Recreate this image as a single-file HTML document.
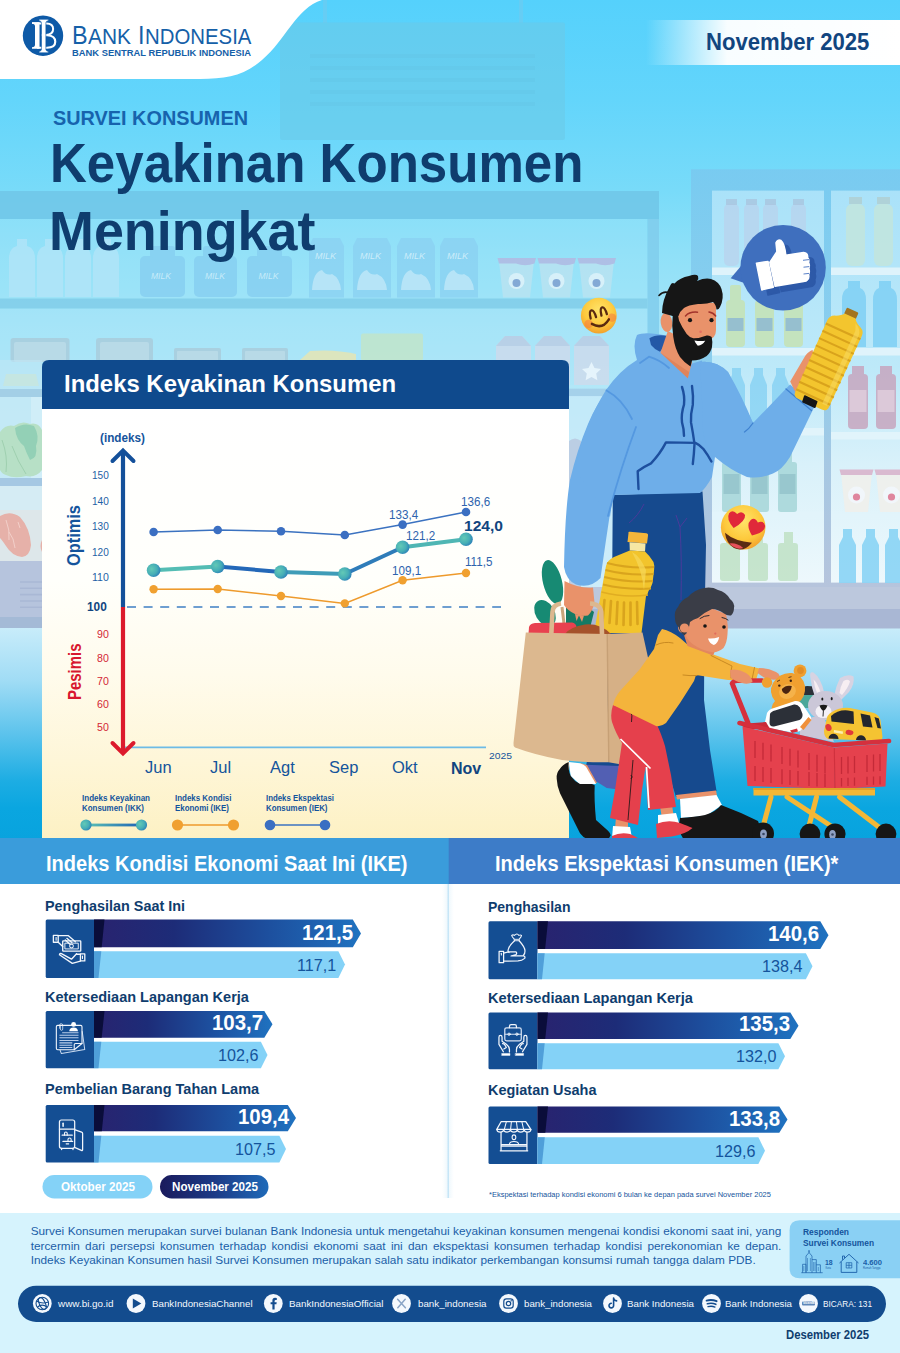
<!DOCTYPE html>
<html lang="id">
<head>
<meta charset="utf-8">
<title>Survei Konsumen - November 2025</title>
<style>
html,body{margin:0;padding:0;background:#fff;}
body{width:900px;height:1353px;overflow:hidden;font-family:"Liberation Sans",sans-serif;}
#page{position:relative;width:900px;height:1353px;overflow:hidden;background:#fff;}
#page svg.layer{position:absolute;left:0;top:0;}
.t{position:absolute;white-space:nowrap;line-height:1;margin:0;padding:0;transform-origin:0 0;}
.b{font-weight:bold;}
.navy{color:#0f3d6e;}
.blue{color:#14549c;}
.w{color:#fff;}
</style>
</head>
<body>
<div id="page">

<!-- ============ BACKGROUND ============ -->
<svg class="layer" width="900" height="1353" viewBox="0 0 900 1353">
<defs>
  <linearGradient id="sky" x1="0" y1="0" x2="0" y2="1">
    <stop offset="0" stop-color="#55d1fc"/>
    <stop offset="0.156" stop-color="#63d5fb"/>
    <stop offset="0.297" stop-color="#78dbf9"/>
    <stop offset="0.39" stop-color="#8ee0f8"/>
    <stop offset="0.5" stop-color="#a3e4f8"/>
    <stop offset="0.625" stop-color="#b5e8f8"/>
    <stop offset="0.8" stop-color="#c6ecf9"/>
    <stop offset="1" stop-color="#d0effa"/>
  </linearGradient>
  <linearGradient id="floor" x1="0" y1="0" x2="0" y2="1">
    <stop offset="0" stop-color="#c8ecfa"/>
    <stop offset="0.25" stop-color="#a0dcf5"/>
    <stop offset="0.5" stop-color="#5cc3ec"/>
    <stop offset="0.72" stop-color="#1dade3"/>
    <stop offset="0.85" stop-color="#0aa6e0"/>
    <stop offset="1" stop-color="#08a3de"/>
  </linearGradient>
  <linearGradient id="ribbon" x1="0" y1="0" x2="1" y2="0">
    <stop offset="0" stop-color="#ffffff" stop-opacity="0"/>
    <stop offset="0.15" stop-color="#ffffff" stop-opacity="0.45"/><stop offset="0.32" stop-color="#ffffff" stop-opacity="0.96"/>
    <stop offset="1" stop-color="#ffffff" stop-opacity="1"/>
  </linearGradient>
  <linearGradient id="card" x1="0" y1="0" x2="0" y2="1">
    <stop offset="0" stop-color="#ffffff"/>
    <stop offset="0.4" stop-color="#fffffb"/>
    <stop offset="0.62" stop-color="#fffbec"/>
    <stop offset="0.82" stop-color="#fef6d8"/>
    <stop offset="1" stop-color="#fdf1c4"/>
  </linearGradient>
</defs>
<rect x="0" y="0" width="900" height="640" fill="url(#sky)"/>
<rect x="0" y="628" width="900" height="212" fill="url(#floor)"/>
<!-- ===== BACKGROUND ART ===== -->
<g id="bgart">
<!-- hanging sign -->
<rect x="323" y="0" width="4" height="23" fill="#6fc9ee" opacity="0.6"/><rect x="519" y="0" width="4" height="23" fill="#6fc9ee" opacity="0.6"/>
<rect x="280" y="22.5" width="285" height="117.5" rx="2" fill="#6ac9e8" opacity="0.6"/>
<g stroke="#62c2e2" stroke-width="4" opacity="0.3"><path d="M310 56 H535 M310 68 H535 M310 80 H535 M310 92 H535 M310 104 H535"/></g>
<!-- shelf unit (left/middle) -->
<rect x="0" y="219" width="647" height="80" fill="#9fe3f8" opacity="0.3"/>
<rect x="0" y="309" width="647" height="76" fill="#a8e5f8" opacity="0.3"/>
<rect x="0" y="191" width="659" height="28" fill="#70c6e8" opacity="0.85"/>
<rect x="647.5" y="219" width="11.5" height="200" fill="#80cdec" opacity="0.85"/>
<rect x="0" y="298.5" width="647.5" height="10" fill="#82cde9" opacity="0.9"/>
<!-- milk bottles (pale) -->
<g fill="#b4e5f9" opacity="0.75">
<path d="M9 297 V258 Q9 248 17 246 V239 H27 V246 Q35 248 35 258 V297 Z"/>
<path d="M37 297 V258 Q37 248 45 246 V239 H55 V246 Q63 248 63 258 V297 Z"/>
<path d="M65 297 V258 Q65 248 73 246 V239 H83 V246 Q91 248 91 258 V297 Z"/>
<path d="M93 297 V258 Q93 248 101 246 V239 H111 V246 Q119 248 119 258 V297 Z"/>
</g>
<!-- milk jugs -->
<g fill="#86cff1" opacity="0.8">
<rect x="140" y="256" width="45" height="41" rx="5"/><rect x="194" y="256" width="43" height="41" rx="5"/><rect x="247" y="256" width="45" height="41" rx="5"/>
<rect x="150" y="246" width="25" height="12" rx="3"/><rect x="203" y="246" width="25" height="12" rx="3"/><rect x="257" y="246" width="25" height="12" rx="3"/>
</g>
<g fill="#d8f2fc" opacity="0.8" font-family="Liberation Sans" font-size="8.5" font-style="italic"><text x="151" y="279">MILK</text><text x="205" y="279">MILK</text><text x="258.5" y="279">MILK</text></g>
<!-- milk cartons -->
<g fill="#8bd2f3" opacity="0.8">
<path d="M309 297.5 V246 L313 238 H340 L344 246 V297.5 Z"/><path d="M353 297.5 V246 L357 238 H387 L391 246 V297.5 Z"/><path d="M397 297.5 V246 L401 238 H431 L435 246 V297.5 Z"/><path d="M440 297.5 V246 L444 238 H474 L478 246 V297.5 Z"/>
</g>
<g fill="#d8f2fc" opacity="0.85" font-family="Liberation Sans" font-size="9" font-style="italic"><text x="315" y="259">MILK</text><text x="360" y="259">MILK</text><text x="404" y="259">MILK</text><text x="447" y="259">MILK</text></g>
<g fill="#c4eaf9" opacity="0.75"><path d="M312 290 Q313 272 322 270 Q326 276 332 274 Q340 278 341 290 Z"/><path d="M357 290 Q358 272 367 270 Q371 276 377 274 Q386 278 387 290 Z"/><path d="M401 290 Q402 272 411 270 Q415 276 421 274 Q430 278 431 290 Z"/><path d="M444 290 Q445 272 454 270 Q458 276 464 274 Q473 278 474 290 Z"/></g>
<!-- yogurt cups -->
<g opacity="0.85">
<g fill="#b9e3f2"><path d="M499 261 H534 L530 297.5 H503 Z"/><path d="M539 261 H574 L570 297.5 H543 Z"/><path d="M579 261 H614 L610 297.5 H583 Z"/></g>
<g fill="#b3b9e2"><path d="M497.5 258 H536 L534.5 263.5 Q525 267 516 263.5 H499 Z"/><path d="M537.5 258 H576 L574.5 263.5 Q565 267 556 263.5 H539 Z"/><path d="M577.5 258 H616 L614.5 263.5 Q605 267 596 263.5 H579 Z"/></g>
<g fill="#e2f3fa"><circle cx="516.5" cy="281" r="8"/><circle cx="556.5" cy="281" r="8"/><circle cx="596.5" cy="281" r="8"/></g>
<g fill="#7f9fd0"><circle cx="516.5" cy="283" r="4"/><circle cx="556.5" cy="283" r="4"/><circle cx="596.5" cy="283" r="4"/></g>
</g>
<!-- lower shelf items -->
<g opacity="0.8">
<g fill="#a9cbdb"><rect x="10.5" y="338" width="59" height="24" rx="3"/><rect x="96" y="338" width="57" height="24" rx="3"/><rect x="174" y="348" width="47" height="14" rx="2"/><rect x="242" y="348" width="46" height="14" rx="2"/></g>
<g fill="#bcd8e4"><rect x="14" y="342" width="52" height="20" rx="2"/><rect x="100" y="342" width="49" height="20" rx="2"/><rect x="177" y="351" width="41" height="11" rx="1"/><rect x="245" y="351" width="40" height="11" rx="1"/></g>
<rect x="361" y="333.5" width="62" height="27" rx="2" fill="#c3e5c8"/>
<path d="M300 360 L310 351 Q335 349 356 354 V360 Z" fill="#e9e6b0"/>
<g fill="#cfdbec"><path d="M496 385 V346 L505 336 H522 L531 346 V385 Z"/><path d="M535 385 V346 L544 336 H561 L570 346 V385 Z"/><path d="M574 385 V346 L583 336 H600 L609 346 V385 Z"/></g>
<g fill="#bccbe3"><path d="M496 346 L505 336 H522 L531 346 Z"/><path d="M535 346 L544 336 H561 L570 346 Z"/><path d="M574 346 L583 336 H600 L609 346 Z"/></g>
<path d="M591.5 362 l3 6 l6.5 1 l-4.8 4.6 l1.2 6.6 l-5.9 -3.2 l-5.9 3.2 l1.2 -6.6 l-4.8 -4.6 l6.5 -1 Z" fill="#f4f8fd"/>
</g>
<!-- left strip (below card top) -->
<rect x="0" y="360" width="42" height="30" fill="#bfe6f5" opacity="0.6"/>
<path d="M3 386 L6 374 H36 L39 386 Z" fill="#c7e6e0" opacity="0.9"/>
<rect x="0" y="389" width="42" height="8" fill="#a3cfe6"/>
<rect x="0" y="397" width="42" height="81" fill="#c5e8f5" opacity="0.8"/>
<rect x="31" y="397" width="11" height="81" fill="#d3eff9" opacity="0.8"/>
<path d="M0 432 Q6 424 14 426 Q22 420 30 424 Q38 422 42 430 V470 Q36 478 26 476 Q14 479 6 475 Q2 474 0 470 Z" fill="#b7e0c6"/>
<path d="M15 428 Q24 422 34 426 Q40 436 36 446 Q38 458 30 460 Q26 452 24 446 Q16 440 15 428 Z" fill="#93d0b6"/>
<path d="M2 440 Q8 456 6 472 M12 446 Q18 462 26 474" fill="none" stroke="#9fd0b0" stroke-width="1"/>
<rect x="0" y="478" width="42" height="8" fill="#a5c8e3"/>
<rect x="0" y="486" width="42" height="26" fill="#d5ecf4"/>
<rect x="0" y="510" width="42" height="51" fill="#dde7ea"/>
<path d="M0 516 Q10 510 20 517 Q30 528 31 545 Q30 556 22 557 Q12 556 6 546 Q2 540 0 538 Z" fill="#e6b1a9"/>
<path d="M6 520 Q10 530 9 540 M9 532 Q14 538 15 548 M18 522 L20 528" fill="none" stroke="#f3d3cd" stroke-width="0.9"/>
<path d="M42 540 Q39 546 42 552 Z" fill="#e6b1a9"/>
<rect x="0" y="561" width="42" height="56" fill="#b6c4dd"/>
<rect x="0" y="617" width="42" height="11" fill="#a4bad6"/>
<g stroke="#a9b8d5" stroke-width="1.6"><path d="M20 582 H42 M20 588.3 H42 M20 594.6 H42 M20 601 H42 M20 607.3 H42"/></g>
<!-- fridge (right) -->
<defs>
<linearGradient id="frFrame" x1="0" y1="0" x2="0" y2="1"><stop offset="0" stop-color="#7ac7ee" stop-opacity="0.8"/><stop offset="0.45" stop-color="#86caec" stop-opacity="0.85"/><stop offset="0.7" stop-color="#a4c6e2" stop-opacity="0.95"/><stop offset="1" stop-color="#b6c4dc" stop-opacity="1"/></linearGradient>
<linearGradient id="frIn" x1="0" y1="0" x2="0" y2="1"><stop offset="0" stop-color="#aae2f9"/><stop offset="0.45" stop-color="#bde9f9"/><stop offset="0.7" stop-color="#d9f1fa"/><stop offset="1" stop-color="#edf8fc"/></linearGradient>
</defs>
<rect x="691" y="169.3" width="209" height="418" fill="url(#frFrame)"/>
<rect x="712" y="190.6" width="112" height="392" fill="url(#frIn)"/>
<rect x="831" y="190.6" width="69" height="392" fill="url(#frIn)"/>
<rect x="569" y="388.7" width="78" height="7.5" fill="#a3cee8" opacity="0.9"/>
<rect x="569" y="396" width="122" height="192" fill="#cdebf9" opacity="0.55"/>
<path d="M569 587 V441 Q575 436 581 441 V587 Z" fill="#b9c9e1" opacity="0.85"/>
<g fill="#e3f5fc" opacity="0.9">
<rect x="712" y="267.5" width="112" height="7.5"/><rect x="831" y="267.5" width="69" height="7.5"/>
<rect x="712" y="348" width="112" height="7.5"/><rect x="831" y="348" width="69" height="7.5"/>
<rect x="712" y="428" width="112" height="7.5"/><rect x="831" y="432" width="69" height="7.5"/>
<rect x="712" y="512" width="112" height="7.5"/><rect x="831" y="514" width="69" height="7.5"/>
</g>
<!-- fridge bottles row1 -->
<g fill="#b9d3ee" opacity="0.75"><rect x="724" y="204" width="15" height="62" rx="5"/><rect x="744" y="204" width="15" height="62" rx="5"/><rect x="763" y="204" width="15" height="62" rx="5"/><rect x="791" y="204" width="15" height="62" rx="5"/></g>
<g fill="#a9c4de" opacity="0.75"><rect x="726" y="199" width="11" height="6"/><rect x="746" y="199" width="11" height="6"/><rect x="765" y="199" width="11" height="6"/><rect x="793" y="199" width="11" height="6"/></g>
<g fill="#c4e6dc" opacity="0.8"><rect x="846" y="204" width="19" height="62" rx="6"/><rect x="874" y="204" width="19" height="62" rx="6"/></g>
<g fill="#b0cfd0" opacity="0.8"><rect x="849" y="197" width="13" height="7"/><rect x="877" y="197" width="13" height="7"/></g>
<!-- row2 -->
<g fill="#c6e3b4" opacity="0.85"><rect x="726" y="300" width="19" height="47" rx="4"/><rect x="755" y="300" width="19" height="47" rx="4"/><rect x="784" y="300" width="19" height="47" rx="4"/><rect x="730" y="285" width="11" height="17" rx="2"/><rect x="759" y="285" width="11" height="17" rx="2"/><rect x="788" y="285" width="11" height="17" rx="2"/></g>
<g fill="#8fb9d2" opacity="0.85"><rect x="727.5" y="318" width="16" height="13"/><rect x="756.5" y="318" width="16" height="13"/><rect x="785.5" y="318" width="16" height="13"/></g>
<g fill="#7fd0f5" opacity="0.85"><path d="M842 347 V300 Q842 290 848 288 V281 H860 V288 Q866 290 866 300 V347 Z"/><path d="M873 347 V300 Q873 290 879 288 V281 H891 V288 Q897 290 897 300 V347 Z"/></g>
<!-- row3 -->
<g fill="#86d2f4" opacity="0.8"><path d="M728 427 V385 L732 375 V368 H741 V375 L745 385 V427 Z"/><path d="M750 427 V385 L754 375 V368 H763 V375 L767 385 V427 Z"/><path d="M772 427 V385 L776 375 V368 H785 V375 L789 385 V427 Z"/></g>
<g fill="#c7a6bf" opacity="0.85"><rect x="848" y="374" width="20" height="55" rx="4"/><rect x="876" y="374" width="20" height="55" rx="4"/><rect x="852" y="366" width="12" height="9"/><rect x="880" y="366" width="12" height="9"/></g>
<g fill="#e2d0de" opacity="0.8"><rect x="849.5" y="390" width="17" height="22"/><rect x="877.5" y="390" width="17" height="22"/></g>
<!-- row4 left: blue-green bottles; right: yogurt cups -->
<g fill="#a6d6d8" opacity="0.85"><rect x="722" y="462" width="19" height="50" rx="3"/><rect x="750" y="462" width="19" height="50" rx="3"/><rect x="778" y="462" width="19" height="50" rx="3"/><rect x="727" y="451" width="9" height="12"/><rect x="755" y="451" width="9" height="12"/><rect x="783" y="451" width="9" height="12"/></g>
<g fill="#93c3cb" opacity="0.8"><rect x="723.5" y="474" width="16" height="20"/><rect x="751.5" y="474" width="16" height="20"/><rect x="779.5" y="474" width="16" height="20"/></g>
<g opacity="0.9"><path d="M841 473 H872 L868 512 H845 Z" fill="#f0f0ec"/><path d="M876 473 H907 L903 512 H880 Z" fill="#f0f0ec"/><path d="M839.5 469.5 H873.5 L872 475 H841 Z M874.5 469.5 H908.5 L907 475 H876 Z" fill="#d9b5cc"/><circle cx="856.5" cy="495" r="8.5" fill="#f4f7fb"/><circle cx="891.5" cy="495" r="8.5" fill="#f4f7fb"/><circle cx="856.5" cy="497" r="3.6" fill="#e07a94"/><circle cx="891.5" cy="497" r="3.6" fill="#e07a94"/></g>
<!-- row5 -->
<g fill="#c2e3c8" opacity="0.9"><rect x="720" y="543" width="20" height="38" rx="3"/><rect x="748" y="543" width="20" height="38" rx="3"/><rect x="778" y="543" width="20" height="38" rx="3"/><rect x="726" y="532" width="9" height="12"/><rect x="754" y="532" width="9" height="12"/><rect x="784" y="532" width="9" height="12"/></g>
<g fill="#84d2f5" opacity="0.85"><path d="M839 583 V545 L843 537 V529 H852 V537 L856 545 V583 Z"/><path d="M862 583 V545 L866 537 V529 H875 V537 L879 545 V583 Z"/><path d="M885 583 V545 L889 537 V529 H898 V537 L902 545 V583 Z"/></g>
<!-- fridge base -->
<rect x="570" y="587" width="330" height="24" fill="#bcc8dd"/>
<rect x="570" y="609" width="330" height="19.5" fill="#a9b7d4"/>

</g>

<!-- white logo tab -->
<path d="M0 0 H322 C296 8 286 40 262 60 C244 76 226 79 200 79 H0 Z" fill="#ffffff"/>
<!-- BI logo -->
<circle cx="43" cy="35.7" r="20.2" fill="#0e5aa7"/>
<g transform="translate(15,8) scale(0.066667)">
  <g fill="none" stroke="#ffffff" stroke-linejoin="round">
    <path d="M330 232 H475 Q572 236 572 314 Q572 396 466 404 H400" stroke-width="30"/>
    <path d="M400 408 H486 Q604 416 604 506 Q604 594 478 596 H330" stroke-width="32"/>
  </g>
  <path d="M255 215 H368 V610 H255 V590 Q296 588 300 560 V265 Q296 238 255 236 Z" fill="#ffffff"/>
  <path d="M360 170 H500 V190 Q466 194 463 220 V622 Q466 648 500 652 V672 H360 V652 Q394 648 397 622 V220 Q394 194 360 190 Z" fill="#ffffff" stroke="#0e5aa7" stroke-width="9"/>
  <path d="M255 215 H368 V240 H255 Z" fill="#ffffff"/>
</g>
<!-- november ribbon -->
<rect x="646" y="20" width="254" height="45" fill="url(#ribbon)"/>
<!-- chart card -->
<path d="M42 409 H569 V838 H42 Z" fill="url(#card)"/>
<path d="M42 367 Q42 360 49 360 H562 Q569 360 569 367 V409 H42 Z" fill="#0f4a8d"/>
<!-- ===== ILLUSTRATION ===== -->
<g id="illus">
<!-- like bubble -->
<path d="M730.7 278.3 L741 266 L747 284 Z" fill="#3f6fbe"/>
<circle cx="783.1" cy="267.7" r="42.7" fill="#3f6fbe"/>
<g fill="#2d59a8" transform="translate(6.2,5.2)">
<path d="M756.4 263.2 L768 261.4 L773.3 287.2 L761.8 289.9 Z" stroke="#2d59a8" stroke-width="1.5" stroke-linejoin="round"/>
<path d="M769.8 262.3 L776.9 251.7 L776 242.8 Q777.5 239 781 240.5 Q784.5 243 785.8 255.2 L803.6 252.6 Q808 253 807.6 257.5 Q809.5 259.5 808.6 262.5 Q810 265.5 808.8 268.5 Q810 271.5 808.6 274.5 Q809.5 278 807.5 279.8 Q806.5 281.5 803.6 281.5 L775.1 286.3 Z" stroke="#2d59a8" stroke-width="1.5" stroke-linejoin="round"/>
</g>
<g fill="#ffffff">
<path d="M756.4 263.2 L768 261.4 L773.3 287.2 L761.8 289.9 Z" stroke="#fff" stroke-width="1.5" stroke-linejoin="round"/>
<path d="M769.8 262.3 L776.9 251.7 L776 242.8 Q777.5 239 781 240.5 Q784.5 243 785.8 255.2 L803.6 252.6 Q808 253 807.6 257.5 Q809.5 259.5 808.6 262.5 Q810 265.5 808.8 268.5 Q810 271.5 808.6 274.5 Q809.5 278 807.5 279.8 Q806.5 281.5 803.6 281.5 L775.1 286.3 Z" stroke="#fff" stroke-width="1.5" stroke-linejoin="round"/>
</g>
<path d="M803 260.3 L809 259.6 M803.5 267.2 L809.3 266.6 M803.5 274 L809 273.4" stroke="#5b82c8" stroke-width="1" fill="none"/>
<!-- MAN legs -->
<path d="M612.8 495 L702.5 491.5 L706 545 L704.5 620 L704 700 L710 750 L716.5 791 L676 797 L660 745 L640 764 L622 766 L586 766 L600 700 L612 600 Z" fill="#164a8e"/>
<!-- pants wrinkles -->
<path d="M644 504 Q638 516 629 523 M676 515 Q678 521 680 527 L687 518 M680 527 Q682 560 681 600" fill="none" stroke="#4a3a9a" stroke-width="1"/>
<!-- left shoe (behind bag) -->
<path d="M586 764.7 L618.7 766 L616.7 789.3 L606.7 788 L596 781.3 Z" fill="#525fb3"/>
<path d="M580 763 L587 765 L597 783 L592 784 Z" fill="#e9926a"/>
<path d="M568.7 762 L580 763.3 Q584 764.5 586 766.7 L596 784 L580 784.5 L570.7 776 Z" fill="#ffffff"/>
<path d="M568.7 762 Q562 765 560 768.7 Q556 773 556.7 778.7 Q557 786 560 793.3 L580 833.3 Q583 837.5 586.7 838.7 L606.7 839.3 Q610 838 610.7 835.3 Q610 832.5 608 830.7 L596 820 Q594 800 594.7 785.3 L592 784 L580 784 Q574 781 570.7 776 Q568 770 568.7 762 Z" fill="#161616"/>
<!-- right shoe -->
<path d="M676 795 L716 790.5 L717 795.5 L677 799.5 Z" fill="#e9926a"/>
<path d="M680 799 L716.5 795 L722 805 L706 816 L681 818 Z" fill="#ffffff"/>
<path d="M680 818 Q695 817 705 815 Q716 812 721 805 Q740 812 758 821 Q762 830 760 840 L684 840 Q677 830 680 818 Z" fill="#161616"/>
<!-- items in bag: bottle -->
<g>
<path d="M628.5 533 Q628 531.5 630 531.8 L646.5 533.2 Q648.5 533.5 648 535.5 L647 543.5 L627.5 542 Z" fill="#f5b63a"/>
<path d="M629.5 542.2 L645.5 543.4 L645 551.5 L629.8 550.5 Z" fill="#f6e7a4"/>
<path d="M629.8 550.5 L645 551.5 Q650 556 653.5 562 Q655 566 654 571 L652.5 583 Q651 588 648.5 591 Q648 594 646 596 L641.5 633 L594 633 L600.5 596 Q600.5 593 601.5 590 Q602.5 586 603 582 L606 566 Q607.5 560 614 557 Z" fill="#f2c42c"/>
<path d="M607 563 Q630 569 654 567 M605.5 570 Q629 576 653.5 574 M604.3 577 Q628 583 652.8 581 M603 584.5 Q626 590 651 588.5" fill="none" stroke="#d9a41d" stroke-width="2.2"/>
<path d="M601.5 592 Q624 598 648 595" fill="none" stroke="#e0ad22" stroke-width="1.5"/>
<g stroke="#d9a41d" stroke-width="2.6" stroke-linecap="round"><path d="M604.5 600 L602.5 622 M611 601 L609.5 623 M617.5 602 L616.5 624 M624 602.5 L623.5 625 M630.5 602.5 L630.5 625 M637 602 L637.5 624"/></g>
<path d="M632 552 Q640 556 646 570 L644 590 Q642 570 632 552 Z" fill="#f7d85a" opacity="0.7"/>
</g>
<!-- leaves -->
<ellipse cx="552.5" cy="582" rx="9.5" ry="22.5" transform="rotate(-14 552.5 582)" fill="#178a73"/>
<ellipse cx="545" cy="613" rx="9.5" ry="14" transform="rotate(-30 545 613)" fill="#178a73"/>
<path d="M566 606 Q580 600 594 612 L590 628 L566 628 Z" fill="#147a64"/>
<!-- back handle -->
<path d="M562 607 L565 632" stroke="#c9a57b" stroke-width="3" fill="none"/>
<!-- red + bread -->
<path d="M528.5 634 L529 627 Q530 623.5 535 623 L572 622.5 Q576 623 576.5 627 L577 634 Z" fill="#e8414f"/>
<path d="M565 634 Q570 627 585 624.5 Q600 623 611 634 Z" fill="#a5522b"/>
<!-- bag -->
<path d="M525.8 632.6 L607 634 L608.6 762.3 Q582 762.5 562 760 Q535 755 515 747.5 Q513 746 513.5 743 Z" fill="#dcb88f"/>
<path d="M607 634 L642.5 632.4 L648.5 660 L640 700 L621.5 764.5 L608.6 762.3 Z" fill="#d6b086"/>
<path d="M607.2 634 L608.8 762" stroke="#c6a076" stroke-width="1.4" fill="none"/>
<!-- hoodie hanging arm -->
<path d="M613 383 Q596 404 588 424 Q577 450 570 480 Q565 510 564 567 Q566 580 576 584.5 Q590 589 600.5 578 L606 540 L612 500 L618 440 Z" fill="#6eaee9"/>
<!-- hand on handle -->
<path d="M564.5 581 Q580 589 593 587.5 L594.5 603 Q592 612 588 615.5 Q580 616.5 575 614 Q568 611 564 605 Z" fill="#e9926a"/>
<!-- front handle -->
<path d="M551.3 634 L552.5 612 Q553 604.5 561 603.5 M590 603.5 Q600.5 604 601.2 612 L602 634" fill="none" stroke="#dcb88f" stroke-width="4.6"/>
<path d="M575 614 L576.5 621 L579 615.5 L582 622 L584 615.5 Z" fill="#e9926a"/>
<!-- hoodie body -->
<path d="M637 335 Q645 331 668 336 L690 372 L700 362 Q716 360 728 372 L753 423 L715 457 L712 477 Q706 488 700 493 L613 495 L610 517 L575 470 Q584 425 606 390 Q620 370 637 360 Q632 345 637 335 Z" fill="#6eaee9"/>
<path d="M690.5 364 L702 360.5 L706 390 L686 381 Z" fill="#6eaee9"/>
<!-- hood inner -->
<path d="M649.4 338.3 Q656 334 667.8 336 L666.7 343 L660 351.7 Q654 349 651 345 Z" fill="#2458a6"/>
<!-- neck -->
<path d="M667.8 331 L660.5 352.8 L687.8 378.3 L692 362 L676 335 Z" fill="#e9926a"/>
<path d="M660.5 352.8 L687.8 378.3 L689 372 Z" fill="#d9784f" opacity="0.55"/>
<!-- hoodie detail lines -->
<g fill="none" stroke="#5498e0" stroke-width="1.8" stroke-linecap="round">
<path d="M606.5 390.5 Q622.5 399 632 419"/>
<path d="M636 427 Q620 470 608 516"/>
<path d="M640 363 L649 356.7 Q660 360 669 368"/>
<path d="M728 376 Q722 392 724 410"/>
</g>
<g fill="none" stroke="#1d4f9e" stroke-width="2.4" stroke-linecap="round" stroke-linejoin="round">
<path d="M682 387 Q685 396 684 404.7 Q681 414 682 422.4 Q684 429 684 435.8"/>
<path d="M692 386 Q693.5 396 692.8 404.7 Q690.5 414 691 422.4 Q693 433 694.5 443.8 Q694 455 692.8 464"/>
<path d="M638.5 489 L637.7 471.3 Q645 466 651 463.3 Q660 454 666 442.4 L695.4 442.9 Q700 445 703.4 449 Q708 455 711.4 461.5"/>
</g>
<!-- head -->
<path d="M676 300 L716 303 L716 330 Q716 338 708 340 L690 342 L676 330 Z" fill="#e9926a"/>
<ellipse cx="666.5" cy="322.5" rx="5.8" ry="9.5" transform="rotate(-8 666.5 322.5)" fill="#e9926a"/>
<path d="M659 295.5 Q663 291 668.5 292.5" fill="none" stroke="#161616" stroke-width="1.6" stroke-linecap="round"/>
<path d="M662 313 Q662 300 670 286 Q671.5 281.5 674.5 283.5 Q680 277.5 689 276 Q696 273.5 698 276 Q699 278.5 697 281 Q705 277.5 711 279 Q719 281.5 721.5 289 Q724.5 298 720 307 Q718.5 310 716.5 309.5 Q716 304.5 713 302 Q706 304.5 698 304 Q688 305 684 308 Q680 311 678.5 316 L672.5 316 Z" fill="#161616"/>
<path d="M672.8 314 Q671.5 326 673.3 337 Q675 349 680 357 Q684.5 363 690.5 366.5 L692 360.5 Q700 360.5 706.7 356 Q711 352 712 347 Q712.8 341.5 711.7 337 Q709.5 335 706.7 335.5 Q699 338.5 693.3 338.3 Q689 337 686.7 334 Q682 327.5 679 320.5 L677.8 314 Z" fill="#161616"/>
<path d="M694.4 340.5 Q700 341.5 705.2 340.8 Q702.5 345.5 697.8 345.8 Q695.5 343.5 694.4 340.5 Z" fill="#ffffff"/>
<circle cx="690" cy="320.2" r="2.1" fill="#161616"/><circle cx="711.5" cy="320.2" r="2.1" fill="#161616"/>
<path d="M685.5 316 Q689.5 311.5 697.5 312.2 M709 312 Q713 312.5 715.7 316" fill="none" stroke="#a2342c" stroke-width="1.5" stroke-linecap="round"/>
<circle cx="700.6" cy="331.8" r="1.3" fill="#e26f62"/>
<!-- raised arm -->
<path d="M700 362 Q716 360 728 372 Q742 396 753 423 L790 384.5 L815 405.5 L790 457 Q782 470 773 473.5 Q760 479 747 477 Q730 470 715 457 Q700 440 703 420 Z" fill="#6eaee9"/>
<path d="M753 423 Q749 429 744.5 432 M786 389 L811.5 410.5" fill="none" stroke="#3f82d0" stroke-width="1.3" stroke-linecap="round"/>
<!-- hand with bottle -->
<path d="M790.2 381.4 L805.3 355.7 Q809 351 812.6 350 L814 358.3 L801 385 L806 396 L796.4 394.5 Z" fill="#e9926a"/>
<g transform="translate(829.6,361) rotate(24.5)">
  <rect x="-6.4" y="-56" width="12.8" height="7.2" rx="1.2" fill="#a3741f"/>
  <path d="M-6 -49.5 H6 Q8 -46 14 -43.5 Q19.5 -41 19 -35 L18.5 42 Q18.5 47.5 13 47.5 H-13 Q-18.5 47.5 -18.5 42 L-19 -35 Q-19.5 -41 -14 -43.5 Q-8 -46 -6 -49.5 Z" fill="#f3c52e"/>
  <g stroke="#d9a31c" stroke-width="2.1"><path d="M-19 -32.5 H19 M-19 -24.5 H19 M-19 -16.5 H19 M-19 -8.5 H19 M-19 -0.5 H19 M-19 7.5 H19 M-19 15.5 H19 M-19 23.5 H19 M-19 31.5 H19 M-18.7 39.5 H18.7"/></g>
  <path d="M8 -45 Q16 -41 16 -35 L16 42 L11 42 L11 -38 Z" fill="#f8db62" opacity="0.55"/>
</g>
<path d="M804.8 396 L816.8 401.6 L814.8 407.2 L802.9 401.8 Z" fill="#161616" stroke="#161616" stroke-width="1.5" stroke-linejoin="round"/>
<!-- emojis -->
<defs>
<radialGradient id="emo" cx="0.5" cy="0.35" r="0.7"><stop offset="0" stop-color="#ffe46a"/><stop offset="0.6" stop-color="#fdc93c"/><stop offset="1" stop-color="#f0982a"/></radialGradient>
</defs>
<circle cx="598.8" cy="315.7" r="17.9" fill="url(#emo)"/>
<g transform="rotate(-15 598.8 315.7)">
<circle cx="586.8" cy="321" r="4.2" fill="#f4743f" opacity="0.5"/><circle cx="611" cy="321" r="4.2" fill="#f4743f" opacity="0.5"/>
<path d="M590.2 316.3 Q590.4 308.6 593 308.6 Q595.6 308.6 595.8 316.3" fill="none" stroke="#5a2a10" stroke-width="2.3" stroke-linecap="round"/>
<path d="M601.4 316.3 Q601.6 308.6 604.2 308.6 Q606.8 308.6 607 316.3" fill="none" stroke="#5a2a10" stroke-width="2.3" stroke-linecap="round"/>
<path d="M590 321.8 Q598.6 330.5 607.6 321.8" fill="none" stroke="#5a2a10" stroke-width="2.4" stroke-linecap="round"/>
</g>
<circle cx="743.2" cy="527.3" r="22.3" fill="url(#emo)"/>
<g transform="rotate(12 743.2 527.3)">
<g fill="#e0283a">
<path d="M734 530 Q724.5 523 726.5 516.5 Q729 511.5 734.5 515.5 Q738.5 510.5 742.5 515 Q744.5 521 734 530 Z"/>
<path d="M753.5 533.5 Q745 524.5 749 518.5 Q752.5 514.5 756.5 519.5 Q762 516 764.5 521.5 Q765.5 528 753.5 533.5 Z"/>
</g>
<path d="M726.5 536.5 Q738 543 755 540.5 Q749 552 738.5 549.5 Q730 546.5 726.5 536.5 Z" fill="#5a2a14"/>
<path d="M733 546 Q740 543.5 747.5 547.5 Q741 551.5 733 546 Z" fill="#e8505a"/>

</g>
</g>

<!-- ===== BOY ===== -->
<g id="boy">
<!-- far shoe/ankle -->
<path d="M660 806 L672 805 L674 818 L662 819 Z" fill="#e9926a"/>
<path d="M658 815 L676 813 L679 823 L658 825 Z" fill="#ffffff"/>
<path d="M656 824 Q668 819 680 823 Q688 826 692.5 828 Q686 834 672 836.5 L657 838 Z" fill="#e5404c"/>
<!-- near shoe -->
<path d="M616 817 L628 818 L628 830 L615 829 Z" fill="#e9926a"/>
<path d="M613 826 L630 827 L632 838 L612 838 Z" fill="#ffffff"/>
<path d="M612 836 Q620 832 630 834 Q640 838 646 845 L612 845 Z" fill="#e5404c"/>
<!-- pants -->
<path d="M613 705 Q610 714 612 722 Q616 734 622 743 L615 790 L610 818 L638 825 L642 790 L645.5 767 L648 810 L676 807 L671 775 L665 746 Q661 733 657 725 L628 710 Z" fill="#e5404c"/>
<path d="M620.5 739 L650.5 768.5 M646.5 767 L649 808" fill="none" stroke="#ffffff" stroke-width="1.7"/>
<path d="M630 709 Q633 716 631.5 722 M633 760 L630.5 790 L628 820 M630.8 775 l1.5 2 l-1.5 2" fill="none" stroke="#2a1a1a" stroke-width="0.9"/>
<!-- hoodie -->
<path d="M662 629 Q671 631 680 638 L688 645 Q700 650 712 654 L740 664 L759.5 668.5 L756 680 L728 680 L696 675 L694 681 L680 703 L666 723 Q661 727 656 726 L613 705 Q615 697 620 691 L640 669 L654 649 L658 635 Z" fill="#f4b43c"/>
<path d="M656 645 Q664 641 673 643 M711 655.5 Q722 661 732 666 Q730 672 731 678 M683 675 Q690 676 697 675.5 M754.5 667.5 L752 679.5" fill="none" stroke="#c98a22" stroke-width="1" stroke-linecap="round"/>
<!-- neck/face -->
<path d="M683 632 L687.5 646 L713 655.5 L716 649 L692 637 Z" fill="#e3875f"/>
<circle cx="684" cy="627.5" r="6" fill="#e9926a"/>
<path d="M688 622 Q700 612 712 608.5 L726 614 Q728.5 625 727.5 634 Q727 643 723.5 648 Q718 653 711 652 Q701 650 694 645 Q688 641 686 636 Z" fill="#e9926a"/>
<!-- hair -->
<path d="M675 618 Q674 611 678 607 Q681 600 688 597 Q694 590 704 588 Q712 586.5 718 590 Q726 592 730 599 Q735 603 734 608 Q734 613 731 615.5 Q727 616 724 613.5 Q718 609 712 609 Q705 612 698 618 Q693 619.5 690 622 Q689 630 684.5 635.5 Q680 632 678.5 627 Q675 624 675 618 Z" fill="#3a3d47"/>
<circle cx="684.5" cy="628" r="4.6" fill="#e9926a"/>
<circle cx="705" cy="626" r="1.8" fill="#161616"/><circle cx="724" cy="627" r="1.8" fill="#161616"/>
<path d="M700 618.5 Q704 615.5 709 615.5 M722 617.5 Q725.5 618 728 620" fill="none" stroke="#2a2a30" stroke-width="1" stroke-linecap="round"/>
<path d="M708 638.5 Q713.5 639 719.2 637 Q718 643.5 713.8 645 Q709.5 643.5 708 638.5 Z" fill="#ffffff"/>
<circle cx="715.3" cy="633.6" r="1.1" fill="#e06a5c"/>
</g>
<!-- ===== CART ===== -->
<g id="cart">
<!-- handle -->
<path d="M733 685.5 L748 723" fill="none" stroke="#d5303d" stroke-width="5" stroke-linecap="round"/>
<path d="M732 683.5 Q733 681 737 680.8 L762 680.5" fill="none" stroke="#d5303d" stroke-width="4.6" stroke-linecap="round"/>
<!-- hands -->
<path d="M730 670 Q738 668 746 673 Q752 677 752.5 682 Q748 685 742 683 Q734 681 730.5 677 Z" fill="#e9926a"/>
<path d="M759 668 Q768 668 776 672 Q781 675 780 679 Q772 681 765 678 Q760 675 757.5 673 Z" fill="#e9926a"/>
<!-- teal car behind -->
<path d="M801 693 Q801 686 807 686 L815 686.5 Q817 687 817 690 L817.5 697 L800 697 Z" fill="#2c3038"/>
<path d="M797 695 L818 695 L819 708 L797 708 Z" fill="#4aa79a"/>
<!-- teddy -->
<circle cx="800" cy="670.8" r="6.4" fill="#f0a030"/><circle cx="800.5" cy="670.5" r="3.4" fill="#e38d24"/>
<circle cx="767" cy="682.5" r="5.2" fill="#f0a030"/>
<path d="M772 716 Q770 706 775 701 Q768 692 773 683 Q780 672 792 673 Q803 675 805 686 Q806 697 798 703 Q800 708 798 716 Z" fill="#f0a030"/>
<ellipse cx="787.5" cy="691.5" rx="8.6" ry="7.2" transform="rotate(-22 787.5 691.5)" fill="#f5b24a"/>
<path d="M781.8 689 Q786 684.5 791.8 686 Q791 692.5 786 694 Q782 693 781.8 689 Z" fill="#4a2410"/>
<circle cx="779.3" cy="685.6" r="1.2" fill="#3a2010"/><circle cx="790.8" cy="680.8" r="1.2" fill="#3a2010"/>
<path d="M777 681.5 l3 -1.5 M788.5 677.5 l3 -0.8" stroke="#3a2010" stroke-width="0.8" fill="none"/>
<!-- bunny -->
<path d="M810.5 678 Q809 671 813.5 672.5 Q821 678 824 692 L815 697 Q811.5 688 810.5 678 Z" fill="#d7d3e2"/>
<path d="M813.5 679.5 Q817.5 683 820.5 692 L817.5 694 Q814.5 688 813.5 679.5 Z" fill="#f7eef2"/>
<path d="M840 678 Q848 673.5 853.5 676.5 Q855 684 849 692 L841 700 L834.5 694 Q836.5 685 840 678 Z" fill="#d7d3e2"/>
<path d="M843.5 681 Q848.5 678.5 850 681.5 Q848 688 842 695 L839.5 693 Q840.5 686 843.5 681 Z" fill="#f7eef2"/>
<ellipse cx="825.5" cy="705.5" rx="17.5" ry="14.5" fill="#cbc7d8"/>
<path d="M804 722 Q812 714 824 718 L834 742 L800 735 Q799 727 804 722 Z" fill="#cbc7d8"/>
<ellipse cx="823.5" cy="711.5" rx="8" ry="6.6" fill="#f4f1f7"/>
<path d="M819.5 705.6 Q823.5 704 827.5 705.6 Q825.5 710.4 823.4 711 Q821 710 819.5 705.6 Z" fill="#1a1a1a"/>
<path d="M823.4 711 L823 716.5" stroke="#1a1a1a" stroke-width="0.9" fill="none"/>
<ellipse cx="822.3" cy="699" rx="1" ry="1.6" fill="#1a1a1a"/><ellipse cx="831.7" cy="698.7" rx="1" ry="1.6" fill="#1a1a1a"/>
<!-- helmet-like toy -->
<path d="M767 713 Q769 709 774 708 L795 701 Q800 700.5 803 705 L811 717 Q812 721 808 723 L800 731 Q796 733 790 732 L768 728 Q764 727 765 722 Z" fill="#ffffff"/>
<path d="M770 714 Q771 711.5 775 710.5 L794 704.5 Q797.5 704 800 707.5 L802.5 714 Q803 718 799.5 720 L774 726.5 Q769.5 727 769.5 722.5 Z" fill="#2c3038"/>
<path d="M800 727 L808.5 717 L811.5 720 L803.5 730 Z" fill="#f0903a"/>
<path d="M790 730.5 L797 728.5 L798 731.5 L792 733 Z" fill="#d5303d"/>
<!-- yellow car -->
<path d="M826 722 Q827 714 832 712 Q840 707 850 708 L872 712.5 Q879 714 880.5 720 L882.5 737 L881.5 741 L828 739 Q824 737 824 731 Z" fill="#f5c332"/>
<path d="M831 716 Q838 709.5 848 710.5 L853.5 711.5 L854 724 L831.5 721.5 Z" fill="#23262e"/>
<path d="M860.5 713.5 L870 715.5 L872.5 727.5 L863 726.5 Z" fill="#23262e"/>
<path d="M874.5 717 L878.8 718.5 L881 728.5 L877.5 728 Z" fill="#23262e"/>
<ellipse cx="828.5" cy="727.5" rx="3" ry="3.6" transform="rotate(-20 828.5 727.5)" fill="#e03a3a"/>
<ellipse cx="849.5" cy="732.5" rx="4" ry="2.6" transform="rotate(8 849.5 732.5)" fill="#e03a3a"/>
<path d="M834 730 L843 731.5 L842.7 734 L833.8 732.5 Z" fill="#fbeeb0"/>
<path d="M828.5 738.5 A5 5 0 0 1 838.5 739 Z M856 740 A5 5 0 0 1 866 740.5 Z" fill="#23262e"/>
<!-- basket -->
<path d="M740 724 L766 722 L770 729 L746 729 Z" fill="#c92a38"/>
<path d="M742.5 726.5 L834 747.5 L835 789 L747.5 786 Z" fill="#e5414d"/>
<path d="M834 747.5 L887.5 743.5 L885.5 786.5 L835 789 Z" fill="#e5414d"/>
<path d="M834.3 748 L835 789" stroke="#d0303d" stroke-width="1.1" fill="none"/>
<path d="M739.5 723 L833.5 745 L889 741" fill="none" stroke="#d5303d" stroke-width="4.6" stroke-linejoin="round" stroke-linecap="round"/>
<g stroke="#c42a38" stroke-width="1.3" fill="none">
<path d="M755 741 V758 M763 742.8 V759.8 M771 744.6 V761.6 M782 747 V764 M790 748.8 V765.8 M798 750.6 V767.6 M809 753 V770 M817 754.8 V771.8 M825 756.6 V773.6"/>
<path d="M755 766 V781 M763 767 V782 M771 768 V783 M782 769.2 V784.2 M790 770 V785 M798 771 V785.5 M809 772 V786 M817 773 V786.5 M825 774 V787"/>
<path d="M841.5 757 V774 M848 756.5 V773.5 M854.5 756 V773 M867 755 V772 M873.5 754.5 V771.5 M880 754 V771"/>
<path d="M841.5 778 V786.5 M848 777.7 V786 M854.5 777.4 V785.7 M867 776.8 V785 M873.5 776.5 V784.7 M880 776.2 V784.4"/>
</g>
<!-- frame -->
<g stroke="#f3b736" stroke-width="5" stroke-linecap="round" fill="none">
<path d="M816.5 797 L809 826"/>
<path d="M771 797 L764 823"/>
<path d="M787 797 L831 826"/>
<path d="M839.5 797 L884 831"/>
</g>
<path d="M753.5 788 L875 788 L875 795.5 L753.5 795.5 Z" fill="#f3b736"/>
<path d="M753.5 788 L875 788 L875 790 L753.5 790 Z" fill="#e0a02a"/>
<!-- wheels -->
<circle cx="810" cy="834" r="10.4" fill="#161616"/>
<circle cx="886" cy="834" r="10.4" fill="#161616"/>
<circle cx="763" cy="833.5" r="11" fill="#161616"/><ellipse cx="763.5" cy="834" rx="3.4" ry="4.6" fill="#8fa0c4"/><circle cx="763.5" cy="834" r="1.3" fill="#3a4866"/>
<circle cx="835" cy="834" r="10.6" fill="#161616"/><ellipse cx="832.5" cy="834.5" rx="3.3" ry="4.5" fill="#8fa0c4"/><circle cx="832.5" cy="834.5" r="1.3" fill="#3a4866"/>
</g>

<!-- section headers -->
<rect x="0" y="838" width="449" height="46.5" fill="#3a9cdb"/>
<rect x="448.7" y="838" width="451.3" height="46.5" fill="#3d7cc8"/>
<!-- white panel -->
<rect x="0" y="884" width="900" height="328" fill="#ffffff"/>
<linearGradient id="vdiv" x1="0" y1="0" x2="1" y2="0"><stop offset="0" stop-color="#eaf6fc" stop-opacity="0"/><stop offset="0.5" stop-color="#e3f3fb" stop-opacity="1"/><stop offset="1" stop-color="#eaf6fc" stop-opacity="0"/></linearGradient>
<rect x="442" y="884" width="12" height="314" fill="url(#vdiv)" opacity="0.7"/>
<rect x="447.6" y="884" width="1.2" height="314" fill="#bde2f5"/>
<!-- footer -->
<rect x="0" y="1213" width="900" height="140" fill="#d6f3fd"/>
<rect x="18" y="1285.7" width="868" height="36.3" rx="18.15" fill="#134c8e"/>
<path d="M900 1220.3 H799.6 Q789.6 1220.3 789.6 1230.3 V1268.3 Q789.6 1278.3 799.6 1278.3 H900 Z" fill="#8ad0f4"/>
</svg>

<svg class="layer" width="900" height="1353" viewBox="0 0 900 1353">
<defs>
  <linearGradient id="ikkL" x1="0" y1="0" x2="1" y2="0"><stop offset="0" stop-color="#5cc2b4"/><stop offset="1" stop-color="#1f62b6"/></linearGradient>
  <linearGradient id="ikkL2" x1="0" y1="0" x2="1" y2="0"><stop offset="0" stop-color="#1f62b6"/><stop offset="1" stop-color="#5cc2b4"/></linearGradient>
  <radialGradient id="ikkP" cx="0.35" cy="0.4" r="0.75"><stop offset="0" stop-color="#63c9b6"/><stop offset="0.55" stop-color="#46aeb6"/><stop offset="1" stop-color="#2574b9"/></radialGradient>
</defs>
<!-- x axis -->
<line x1="124" y1="747.4" x2="486" y2="747.4" stroke="#6dbbe6" stroke-width="1.6"/>
<!-- dashed 100 line -->
<line x1="127" y1="607" x2="501" y2="607" stroke="#3f7fc4" stroke-width="1.4" stroke-dasharray="9 7.6"/>
<!-- y axis up (blue) -->
<line x1="123" y1="452" x2="123" y2="607" stroke="#14509a" stroke-width="4.2"/>
<polyline points="112.5,461 123,450.5 133.5,461" fill="none" stroke="#14509a" stroke-width="4" stroke-linecap="round" stroke-linejoin="miter"/>
<!-- y axis down (red) -->
<line x1="123" y1="607" x2="123" y2="751" stroke="#dc1a2c" stroke-width="4.2"/>
<polyline points="112.5,743 123,753.5 133.5,743" fill="none" stroke="#dc1a2c" stroke-width="4" stroke-linecap="round" stroke-linejoin="miter"/>
<!-- IEK -->
<polyline points="153.6,532 217.7,530 281,531.2 344.8,535 402.6,524.6 466,512" fill="none" stroke="#3b72c0" stroke-width="1.5"/>
<g fill="#3b6fc2"><circle cx="153.6" cy="532" r="4.3"/><circle cx="217.7" cy="530" r="4.3"/><circle cx="281" cy="531.2" r="4.3"/><circle cx="344.8" cy="535" r="4.3"/><circle cx="402.6" cy="524.6" r="4.3"/><circle cx="466" cy="512" r="4.3"/></g>
<!-- IKE -->
<polyline points="153.6,589.3 217.7,589 281,596 344.8,603.4 402.6,580.3 466,573" fill="none" stroke="#ee9a2c" stroke-width="1.5"/>
<g fill="#f0a030"><circle cx="153.6" cy="589.3" r="4.2"/><circle cx="217.7" cy="589" r="4.2"/><circle cx="281" cy="596" r="4.2"/><circle cx="344.8" cy="603.4" r="4.2"/><circle cx="402.6" cy="580.3" r="4.2"/><circle cx="466" cy="573" r="4.2"/></g>
<!-- IKK -->
<g fill="none" stroke-width="4" stroke-linecap="round">
<line x1="153.6" y1="570.3" x2="217.7" y2="566.5" stroke="#54bdb4"/>
<line x1="217.7" y1="566.5" x2="281" y2="572" stroke="#2468b8"/>
<line x1="281" y1="572" x2="344.8" y2="574" stroke="#3f9cb8"/>
<line x1="344.8" y1="574" x2="402.6" y2="547.3" stroke="#2f7cb9"/>
<line x1="402.6" y1="547.3" x2="466" y2="539.2" stroke="#4fb6b4"/>
</g>
<g fill="url(#ikkP)"><circle cx="153.6" cy="570.3" r="6.8"/><circle cx="217.7" cy="566.5" r="6.8"/><circle cx="281" cy="572" r="6.8"/><circle cx="344.8" cy="574" r="6.8"/><circle cx="402.6" cy="547.3" r="6.8"/><circle cx="466" cy="539.2" r="6.8"/></g>
<!-- legend -->
<line x1="86" y1="825" x2="141.5" y2="825" stroke="url(#ikkL)" stroke-width="3" gradientUnits="userSpaceOnUse"/>
<rect x="86" y="823.6" width="55.5" height="2.8" fill="url(#ikkL)"/>
<circle cx="86" cy="825" r="5.6" fill="url(#ikkP)"/><circle cx="141.5" cy="825" r="5.6" fill="url(#ikkP)"/>
<line x1="177.5" y1="825" x2="233.5" y2="825" stroke="#ee9a2c" stroke-width="1.3"/>
<circle cx="177.5" cy="825" r="5.6" fill="#f0a030"/><circle cx="233.5" cy="825" r="5.6" fill="#f0a030"/>
<line x1="270" y1="825" x2="325" y2="825" stroke="#3b72c0" stroke-width="1.3"/>
<circle cx="270" cy="825" r="5.3" fill="#3b6fc2"/><circle cx="325" cy="825" r="5.3" fill="#3b6fc2"/>
</svg>

<svg class="layer" width="900" height="1353" viewBox="0 0 900 1353">
<defs>
<linearGradient id="db0" gradientUnits="userSpaceOnUse" x1="94" y1="0" x2="361" y2="0"><stop offset="0" stop-color="#29236f"/><stop offset="0.3" stop-color="#1d2c78"/><stop offset="0.65" stop-color="#1d4f9e"/><stop offset="1" stop-color="#1f72c0"/></linearGradient>
<linearGradient id="db1" gradientUnits="userSpaceOnUse" x1="94" y1="0" x2="272.5" y2="0"><stop offset="0" stop-color="#29236f"/><stop offset="0.3" stop-color="#1d2c78"/><stop offset="0.65" stop-color="#1d4f9e"/><stop offset="1" stop-color="#1f72c0"/></linearGradient>
<linearGradient id="db2" gradientUnits="userSpaceOnUse" x1="94" y1="0" x2="296" y2="0"><stop offset="0" stop-color="#29236f"/><stop offset="0.3" stop-color="#1d2c78"/><stop offset="0.65" stop-color="#1d4f9e"/><stop offset="1" stop-color="#1f72c0"/></linearGradient>
<linearGradient id="db3" gradientUnits="userSpaceOnUse" x1="537.5" y1="0" x2="828.5" y2="0"><stop offset="0" stop-color="#29236f"/><stop offset="0.3" stop-color="#1d2c78"/><stop offset="0.65" stop-color="#1d4f9e"/><stop offset="1" stop-color="#1f72c0"/></linearGradient>
<linearGradient id="db4" gradientUnits="userSpaceOnUse" x1="537.5" y1="0" x2="798.5" y2="0"><stop offset="0" stop-color="#29236f"/><stop offset="0.3" stop-color="#1d2c78"/><stop offset="0.65" stop-color="#1d4f9e"/><stop offset="1" stop-color="#1f72c0"/></linearGradient>
<linearGradient id="db5" gradientUnits="userSpaceOnUse" x1="537.5" y1="0" x2="787.5" y2="0"><stop offset="0" stop-color="#29236f"/><stop offset="0.3" stop-color="#1d2c78"/><stop offset="0.65" stop-color="#1d4f9e"/><stop offset="1" stop-color="#1f72c0"/></linearGradient>
</defs>
<path d="M47.2 919.6 H94 V978 H47.2 Q45.7 978 45.7 976.5 V921.1 Q45.7 919.6 47.2 919.6 Z" fill="#144e93"/>
<path d="M94 919.6 H352.8 L361 933.4000000000001 L352.8 947.2 H94 Z" fill="url(#db0)"/>
<path d="M94 919.6 H104.5 L101.7 947.2 H94 Z" fill="#0a0d3a"/>
<path d="M94 951.2 H338.4 L345 964.6 L338.4 978 H94 Z" fill="#84d2f7"/>
<path d="M94 951.2 H101.3 L98.5 978 H94 Z" fill="#4f9fd9"/>
<path d="M47.2 1011 H94 V1068.2 H47.2 Q45.7 1068.2 45.7 1066.7 V1012.5 Q45.7 1011 47.2 1011 Z" fill="#144e93"/>
<path d="M94 1011 H264.3 L272.5 1024.35 L264.3 1037.7 H94 Z" fill="url(#db1)"/>
<path d="M94 1011 H104.5 L101.7 1037.7 H94 Z" fill="#0a0d3a"/>
<path d="M94 1041.7 H260.9 L267.5 1054.95 L260.9 1068.2 H94 Z" fill="#84d2f7"/>
<path d="M94 1041.7 H101.3 L98.5 1068.2 H94 Z" fill="#4f9fd9"/>
<path d="M47.2 1105 H94 V1162.5 H47.2 Q45.7 1162.5 45.7 1161.0 V1106.5 Q45.7 1105 47.2 1105 Z" fill="#144e93"/>
<path d="M94 1105 H287.8 L296 1118.1 L287.8 1131.2 H94 Z" fill="url(#db2)"/>
<path d="M94 1105 H104.5 L101.8 1131.2 H94 Z" fill="#0a0d3a"/>
<path d="M94 1135.7 H279.4 L286 1149.1 L279.4 1162.5 H94 Z" fill="#84d2f7"/>
<path d="M94 1135.7 H101.3 L98.5 1162.5 H94 Z" fill="#4f9fd9"/>
<path d="M490.0 921.3 H537.5 V979.2 H490.0 Q488.5 979.2 488.5 977.7 V922.8 Q488.5 921.3 490.0 921.3 Z" fill="#144e93"/>
<path d="M537.5 921.3 H820.3 L828.5 935.15 L820.3 949 H537.5 Z" fill="url(#db3)"/>
<path d="M537.5 921.3 H548.0 L545.1 949 H537.5 Z" fill="#0a0d3a"/>
<path d="M537.5 953.3 H805.9 L812.5 966.25 L805.9 979.2 H537.5 Z" fill="#84d2f7"/>
<path d="M537.5 953.3 H544.7 L542.0 979.2 H537.5 Z" fill="#4f9fd9"/>
<path d="M490.0 1012.5 H537.5 V1069.2 H490.0 Q488.5 1069.2 488.5 1067.7 V1014.0 Q488.5 1012.5 490.0 1012.5 Z" fill="#144e93"/>
<path d="M537.5 1012.5 H790.3 L798.5 1025.75 L790.3 1039 H537.5 Z" fill="url(#db4)"/>
<path d="M537.5 1012.5 H548.0 L545.2 1039 H537.5 Z" fill="#0a0d3a"/>
<path d="M537.5 1043.3 H778.4 L785 1056.25 L778.4 1069.2 H537.5 Z" fill="#84d2f7"/>
<path d="M537.5 1043.3 H544.7 L542.0 1069.2 H537.5 Z" fill="#4f9fd9"/>
<path d="M490.0 1106.5 H537.5 V1164 H490.0 Q488.5 1164 488.5 1162.5 V1108.0 Q488.5 1106.5 490.0 1106.5 Z" fill="#144e93"/>
<path d="M537.5 1106.5 H779.3 L787.5 1119.6 L779.3 1132.7 H537.5 Z" fill="url(#db5)"/>
<path d="M537.5 1106.5 H548.0 L545.3 1132.7 H537.5 Z" fill="#0a0d3a"/>
<path d="M537.5 1137.3 H758.4 L765 1150.65 L758.4 1164 H537.5 Z" fill="#84d2f7"/>
<path d="M537.5 1137.3 H544.8 L542.0 1164 H537.5 Z" fill="#4f9fd9"/>
<defs><linearGradient id="pillg" x1="0" y1="0" x2="1" y2="0"><stop offset="0" stop-color="#1a1a5c"/><stop offset="0.5" stop-color="#1c3a86"/><stop offset="1" stop-color="#1f6ab8"/></linearGradient></defs>
<rect x="42.5" y="1175" width="110" height="23.5" rx="11.75" fill="#84d2f7"/>
<rect x="160" y="1175" width="108.5" height="23.5" rx="11.75" fill="url(#pillg)"/>
</svg>
<svg class="layer" width="900" height="1353" viewBox="0 0 900 1353" fill="none" stroke="#f2f6fc" stroke-width="17" stroke-linejoin="round" stroke-linecap="round">
<!-- icon1: hands with money -->
<g transform="translate(40,915) scale(0.07778)">
  <rect x="172" y="262" width="62" height="88"/>
  <line x1="207" y1="290" x2="207" y2="325" stroke-width="14"/>
  <path d="M234 266 H365 L455 345 M234 350 L292 405 M345 300 L410 355 M325 320 L385 375"/>
  <rect x="292" y="332" width="232" height="132" rx="8"/>
  <path d="M325 362 H492 V436 H325 Z" stroke-width="12"/>
  <circle cx="405" cy="400" r="24" stroke-width="13"/>
  <path d="M470 498 L405 568 L275 497 Q255 490 250 512 L415 622 L520 592"/>
  <rect x="520" y="500" width="56" height="90"/>
  <line x1="546" y1="528" x2="546" y2="560" stroke-width="14"/>
  <path d="M520 505 H470"/>
</g>
<!-- icon2: document with person -->
<g transform="translate(40,1005) scale(0.07778)">
  <path d="M258 580 L275 625 L575 572 L543 340" stroke-width="13" stroke="#c9daf0"/>
  <path d="M440 575 H228 Q210 575 210 557 V280 Q210 262 228 262 H522 Q540 262 540 280 V495 Z" stroke-width="14"/>
  <path d="M440 575 V512 Q440 495 458 495 H540" stroke-width="14"/>
  <circle cx="432" cy="250" r="31" fill="#fff" stroke="none"/>
  <path d="M376 338 Q378 288 432 288 Q486 288 488 338 Z" fill="#fff" stroke="none"/>
  <path d="M252 300 V260 Q252 240 272 240 Q292 240 292 260 V310 Q292 326 277 326 Q262 326 262 310 V275" stroke-width="9"/>
  <g stroke="#b9cdea" stroke-width="13" stroke-linecap="butt"><path d="M285 358 H495 M250 390 H495 M250 422 H495 M250 455 H495 M250 487 H415 M250 517 H415 M250 547 H415"/></g>
</g>
<!-- icon3: fridge -->
<g transform="translate(40,1099) scale(0.07778)" stroke-width="16">
  <rect x="250" y="270" width="196" height="365" rx="26"/>
  <line x1="250" y1="386" x2="446" y2="386"/>
  <line x1="297" y1="312" x2="297" y2="350" stroke-width="20"/>
  <path d="M285 466 H415 M295 546 H420 M337 576 H368"/>
  <path d="M315 466 V440 Q315 425 332 425 Q350 425 350 440 V466 M360 546 V518 Q360 502 380 502 Q400 502 400 518 V546" stroke-width="14"/>
  <path d="M452 396 L535 426 Q548 431 548 445 V650 Q548 668 532 660 L452 626"/>
  <path d="M278 636 V650 M424 636 V650"/>
</g>
<!-- icon4: money bag on hand -->
<g transform="translate(483,916) scale(0.07778)" stroke-width="16">
  <path d="M405 318 Q330 385 322 440 Q320 462 335 470 M465 318 Q540 400 540 450 Q540 485 520 505"/>
  <path d="M400 300 H468 M402 318 H466" stroke-width="12"/>
  <path d="M402 296 Q372 270 368 250 Q385 235 405 250 Q420 232 435 232 Q450 232 462 250 Q480 236 496 250 Q492 272 466 296" stroke-width="13"/>
  <rect x="207" y="455" width="58" height="146"/>
  <line x1="236" y1="478" x2="236" y2="500" stroke-width="14"/>
  <path d="M265 478 L330 462 H425 Q440 478 425 495 L360 514 H520 Q548 520 536 545 Q500 575 450 578 L265 580"/>
</g>
<!-- icon5: briefcase & hands -->
<g transform="translate(483,1007) scale(0.07778)" stroke-width="16">
  <rect x="280" y="268" width="212" height="168" rx="24" stroke="#d6e2f4"/>
  <path d="M340 266 V250 Q340 228 362 228 H410 Q430 228 430 250 V266"/>
  <path d="M282 350 H490" stroke="#d6e2f4" stroke-width="13"/>
  <circle cx="335" cy="350" r="15" stroke-width="12"/><circle cx="436" cy="350" r="15" stroke-width="12"/>
  <path d="M262 575 L205 480 V388 Q205 366 225 366 Q245 366 245 388 V440 L300 478 Q340 510 340 545 V578"/>
  <path d="M252 470 Q275 465 300 520 L268 540"/>
  <path d="M508 575 L565 480 V388 Q565 366 545 366 Q525 366 525 388 V440 L470 478 Q430 510 430 545 V578"/>
  <path d="M518 470 Q495 465 470 520 L502 540"/>
  <rect x="243" y="597" width="104" height="26" fill="#fff" stroke-width="6"/>
  <rect x="418" y="597" width="104" height="26" fill="#fff" stroke-width="6"/>
</g>
<!-- icon6: shop -->
<g transform="translate(483,1101) scale(0.07778)" stroke-width="16">
  <path d="M232 266 H550 L615 365 H177 Z"/>
  <path d="M300 268 L275 362 M365 268 L355 362 M430 268 L442 362 M500 268 L522 362" stroke-width="13"/>
  <path d="M177 368 Q182 400 221 400 Q260 400 265 372 Q270 400 309 400 Q348 400 353 372 Q358 400 397 400 Q436 400 441 372 Q446 400 485 400 Q524 400 529 372 Q534 400 573 400 Q612 400 617 368" stroke-width="14"/>
  <path d="M232 402 V640 M565 402 V640 M222 640 H575 M232 560 H565 M240 580 H558" />
  <ellipse cx="398" cy="466" rx="24" ry="31" stroke-width="14"/>
  <path d="M340 556 Q344 520 398 520 Q454 520 458 556" stroke-width="14"/>
</g>
</svg>

<svg class="layer" width="900" height="1353" viewBox="0 0 900 1353">
<g fill="#f4f8fd">
<circle cx="42.3" cy="1303.5" r="9.4"/><circle cx="136" cy="1303.5" r="9.4"/><circle cx="273.3" cy="1303.5" r="9.4"/><circle cx="401.5" cy="1303.5" r="9.4"/><circle cx="508.5" cy="1303.5" r="9.4"/><circle cx="612.5" cy="1303.5" r="9.4"/><circle cx="711.5" cy="1303.5" r="9.4"/><circle cx="808.5" cy="1303.5" r="9.4"/>
</g>
<!-- globe -->
<g fill="none" stroke="#134c8e" stroke-width="1.1"><circle cx="42.3" cy="1303.5" r="6.3"/><ellipse cx="42.3" cy="1303.5" rx="2.9" ry="6.3" transform="rotate(-25 42.3 1303.5)"/><path d="M36.6 1301 Q42 1304.5 48.4 1302 M37.5 1307 Q42 1303 47.5 1307.3"/></g>
<!-- youtube play -->
<path d="M132.8 1298.6 L141.3 1303.5 L132.8 1308.4 Z" fill="#134c8e"/>
<!-- facebook f -->
<path d="M274.6 1309.5 V1304.3 H276.4 L276.7 1302.2 H274.6 V1300.9 Q274.6 1299.9 275.7 1299.9 H276.8 V1298 Q276 1297.8 275 1297.8 Q272.4 1297.8 272.4 1300.6 V1302.2 H270.6 V1304.3 H272.4 V1309.5 Z" fill="#134c8e"/>
<!-- X -->
<g stroke="#8aa4c6" stroke-width="1.5" fill="none" stroke-linecap="round"><path d="M397.6 1299.2 L405.4 1307.8 M405.2 1299.2 L397.8 1307.8"/></g>
<!-- instagram -->
<g fill="none" stroke="#134c8e" stroke-width="1.2"><rect x="503.8" y="1298.8" width="9.4" height="9.4" rx="2.6"/><circle cx="508.5" cy="1303.5" r="2.2"/></g><circle cx="511.2" cy="1300.8" r="0.7" fill="#134c8e"/>
<!-- tiktok -->
<path d="M613.6 1298 V1305.6 A2.3 2.3 0 1 1 611.3 1303.3 M613.6 1298 Q614 1300.6 616.6 1300.9" fill="none" stroke="#134c8e" stroke-width="1.6" stroke-linecap="round"/>
<!-- spotify -->
<g fill="none" stroke="#134c8e" stroke-linecap="round"><path d="M706.6 1300.6 Q711.6 1299 716.6 1301.2" stroke-width="1.9"/><path d="M707.3 1303.8 Q711.6 1302.4 715.8 1304.3" stroke-width="1.6"/><path d="M708 1306.7 Q711.6 1305.6 715 1307.1" stroke-width="1.3"/></g>
<!-- bicara -->
<rect x="802" y="1301.6" width="13" height="3.8" rx="1" fill="#5f86b8"/>
<!-- responden icons -->
<g fill="none" stroke="#1a5ea8" stroke-width="0.7">
<path d="M801.3 1272.7 H822.7 M802.6 1272.7 V1264.3 H806 V1272.7 M806 1272.7 V1256 L809 1252.6 L809 1250.3 L809.1 1252.6 L812 1256 V1272.7 M812 1259.6 H816.3 V1272.7 M816.3 1264.8 H820.4 V1272.7"/>
<path d="M807.5 1258 V1271 M810.4 1258 V1271 M813.6 1262 V1271 M815 1262 V1271 M803.8 1266 V1271 M818.3 1267 V1271" stroke-width="0.5"/>
<path d="M839.5 1263 L849 1254.3 L858.5 1263 M841.2 1261.8 V1272.4 H856.8 V1261.8 M842.5 1259.8 V1256 H844.5 V1258" stroke-width="0.9"/>
<path d="M846.2 1262.7 H851.8 V1268 H846.2 Z M849 1262.7 V1268 M846.2 1265.3 H851.8" stroke-width="0.7"/>
</g>
</svg>
<div style="position:absolute;left:30.7px;top:1224.3px;width:750.6px;font-size:11.8px;line-height:14.2px;color:#1a5ea8;text-align:justify;text-align-last:justify;white-space:nowrap;">Survei Konsumen merupakan survei bulanan Bank Indonesia untuk mengetahui keyakinan konsumen mengenai kondisi ekonomi saat ini, yang</div>
<div style="position:absolute;left:30.7px;top:1238.5px;width:750.6px;font-size:11.8px;line-height:14.2px;color:#1a5ea8;text-align:justify;text-align-last:justify;white-space:nowrap;">tercermin dari persepsi konsumen terhadap kondisi ekonomi saat ini dan ekspektasi konsumen terhadap kondisi perekonomian ke depan.</div>
<div style="position:absolute;left:30.7px;top:1252.7px;font-size:11.8px;line-height:14.2px;color:#1a5ea8;white-space:nowrap;word-spacing:0.25px;">Indeks Keyakinan Konsumen hasil Survei Konsumen merupakan salah satu indikator perkembangan konsumsi rumah tangga dalam PDB.</div>

<div class="t" style="left:72.0px;top:23.0px;font-size:25.5px;color:#1560a8;transform:scaleX(0.920);">B</div>
<div class="t" style="left:87.5px;top:26.6px;font-size:21.3px;color:#1560a8;transform:scaleX(0.982);">ANK</div>
<div class="t" style="left:137.5px;top:23.0px;font-size:25.5px;color:#1560a8;transform:scaleX(0.920);">I</div>
<div class="t" style="left:144.5px;top:26.6px;font-size:21.3px;color:#1560a8;transform:scaleX(0.957);">NDONESIA</div>
<div class="t" style="left:72.0px;top:49.1px;font-size:8.3px;color:#1560a8;font-weight:bold;transform:scaleX(1.130);">BANK SENTRAL REPUBLIK INDONESIA</div>
<div class="t" style="left:705.8px;top:30.9px;font-size:23px;color:#11457f;font-weight:bold;transform:scaleX(0.961);">November 2025</div>
<div class="t" style="left:53.0px;top:107.6px;font-size:20.5px;color:#1763ad;font-weight:bold;transform:scaleX(0.969);">SURVEI KONSUMEN</div>
<div class="t" style="left:50.3px;top:135.8px;font-size:55.5px;color:#0f3d6e;font-weight:bold;transform:scaleX(0.920);">Keyakinan Konsumen</div>
<div class="t" style="left:49.3px;top:204.2px;font-size:55.5px;color:#0f3d6e;font-weight:bold;transform:scaleX(0.971);">Meningkat</div>
<div class="t" style="left:64.3px;top:372.1px;font-size:24px;color:#fff;font-weight:bold;transform:scaleX(0.996);">Indeks Keyakinan Konsumen</div>
<div class="t" style="left:100.0px;top:431.5px;font-size:12px;color:#14549c;font-weight:bold;transform:scaleX(0.978);">(indeks)</div>
<div class="t" style="left:91.9px;top:470.3px;font-size:10.8px;color:#1f5fa6;transform:scaleX(0.933);">150</div>
<div class="t" style="left:91.9px;top:495.8px;font-size:10.8px;color:#1f5fa6;transform:scaleX(0.933);">140</div>
<div class="t" style="left:91.9px;top:521.1px;font-size:10.8px;color:#1f5fa6;transform:scaleX(0.933);">130</div>
<div class="t" style="left:91.9px;top:546.8px;font-size:10.8px;color:#1f5fa6;transform:scaleX(0.933);">120</div>
<div class="t" style="left:91.9px;top:572.3px;font-size:10.8px;color:#1f5fa6;transform:scaleX(0.976);">110</div>
<div class="t" style="left:86.8px;top:600.8px;font-size:12.3px;color:#11457f;font-weight:bold;transform:scaleX(0.964);">100</div>
<div class="t" style="left:97.1px;top:628.8px;font-size:10.8px;color:#d32535;transform:scaleX(0.982);">90</div>
<div class="t" style="left:97.1px;top:652.5px;font-size:10.8px;color:#d32535;transform:scaleX(0.982);">80</div>
<div class="t" style="left:97.1px;top:675.8px;font-size:10.8px;color:#d32535;transform:scaleX(0.982);">70</div>
<div class="t" style="left:97.1px;top:698.8px;font-size:10.8px;color:#d32535;transform:scaleX(0.982);">60</div>
<div class="t" style="left:97.1px;top:722.1px;font-size:10.8px;color:#d32535;transform:scaleX(0.982);">50</div>
<div class="t" style="left:145.2px;top:759.0px;font-size:17px;color:#14549c;transform:scaleX(0.970);">Jun</div>
<div class="t" style="left:210.1px;top:759.0px;font-size:17px;color:#14549c;transform:scaleX(0.970);">Jul</div>
<div class="t" style="left:269.6px;top:759.0px;font-size:17px;color:#14549c;transform:scaleX(0.970);">Agt</div>
<div class="t" style="left:328.8px;top:759.0px;font-size:17px;color:#14549c;transform:scaleX(0.970);">Sep</div>
<div class="t" style="left:392.2px;top:759.0px;font-size:17px;color:#14549c;transform:scaleX(0.970);">Okt</div>
<div class="t" style="left:450.9px;top:759.5px;font-size:16.5px;color:#11457f;font-weight:bold;transform:scaleX(0.970);">Nov</div>
<div class="t" style="left:489.0px;top:751.2px;font-size:9.8px;color:#14549c;transform:scaleX(1.055);">2025</div>
<div class="t" style="left:65.6px;top:566.3px;font-size:17.8px;color:#14549c;font-weight:bold;transform:rotate(-90deg) scaleX(0.921);">Optimis</div>
<div class="t" style="left:67.2px;top:700.0px;font-size:17.8px;color:#d8172e;font-weight:bold;transform:rotate(-90deg) scaleX(0.841);">Pesimis</div>
<div class="t" style="left:461.4px;top:496.3px;font-size:12px;color:#2e63ad;transform:scaleX(0.970);">136,6</div>
<div class="t" style="left:389.4px;top:508.8px;font-size:12px;color:#2e63ad;transform:scaleX(0.970);">133,4</div>
<div class="t" style="left:464.0px;top:518.2px;font-size:15px;color:#11457f;font-weight:bold;transform:scaleX(1.039);">124,0</div>
<div class="t" style="left:406.4px;top:530.0px;font-size:12px;color:#2e63ad;transform:scaleX(0.970);">121,2</div>
<div class="t" style="left:464.9px;top:555.8px;font-size:12px;color:#2e63ad;transform:scaleX(0.970);">111,5</div>
<div class="t" style="left:392.4px;top:564.8px;font-size:12px;color:#2e63ad;transform:scaleX(0.970);">109,1</div>
<div class="t" style="left:81.5px;top:793.7px;font-size:8.6px;color:#14549c;font-weight:bold;transform:scaleX(0.937);">Indeks Keyakinan</div>
<div class="t" style="left:81.5px;top:804.2px;font-size:8.6px;color:#14549c;font-weight:bold;transform:scaleX(0.921);">Konsumen (IKK)</div>
<div class="t" style="left:175.0px;top:793.7px;font-size:8.6px;color:#14549c;font-weight:bold;transform:scaleX(0.924);">Indeks Kondisi</div>
<div class="t" style="left:175.0px;top:804.2px;font-size:8.6px;color:#14549c;font-weight:bold;transform:scaleX(0.919);">Ekonomi (IKE)</div>
<div class="t" style="left:265.5px;top:793.7px;font-size:8.6px;color:#14549c;font-weight:bold;transform:scaleX(0.912);">Indeks Ekspektasi</div>
<div class="t" style="left:265.5px;top:804.2px;font-size:8.6px;color:#14549c;font-weight:bold;transform:scaleX(0.920);">Konsumen (IEK)</div>
<div class="t" style="left:45.8px;top:852.9px;font-size:22px;color:#fff;font-weight:bold;transform:scaleX(0.910);">Indeks Kondisi Ekonomi Saat Ini (IKE)</div>
<div class="t" style="left:495.3px;top:852.9px;font-size:22px;color:#fff;font-weight:bold;transform:scaleX(0.912);">Indeks Ekspektasi Konsumen (IEK)*</div>
<div class="t" style="left:45.0px;top:898.9px;font-size:14.8px;color:#0f3d6e;font-weight:bold;transform:scaleX(0.973);">Penghasilan Saat Ini</div>
<div class="t" style="left:45.0px;top:989.9px;font-size:14.8px;color:#0f3d6e;font-weight:bold;transform:scaleX(0.980);">Ketersediaan Lapangan Kerja</div>
<div class="t" style="left:45.0px;top:1082.4px;font-size:14.8px;color:#0f3d6e;font-weight:bold;transform:scaleX(0.980);">Pembelian Barang Tahan Lama</div>
<div class="t" style="left:302.4px;top:922.7px;font-size:21.5px;color:#fff;font-weight:bold;transform:scaleX(0.950);">121,5</div>
<div class="t" style="left:296.8px;top:956.5px;font-size:17px;color:#14549c;transform:scaleX(0.950);">117,1</div>
<div class="t" style="left:212.4px;top:1012.7px;font-size:21.5px;color:#fff;font-weight:bold;transform:scaleX(0.950);">103,7</div>
<div class="t" style="left:218.1px;top:1046.5px;font-size:17px;color:#14549c;transform:scaleX(0.950);">102,6</div>
<div class="t" style="left:237.9px;top:1106.7px;font-size:21.5px;color:#fff;font-weight:bold;transform:scaleX(0.950);">109,4</div>
<div class="t" style="left:234.6px;top:1140.5px;font-size:17px;color:#14549c;transform:scaleX(0.950);">107,5</div>
<div class="t" style="left:60.5px;top:1181.1px;font-size:12px;color:#fff;font-weight:bold;transform:scaleX(0.973);">Oktober 2025</div>
<div class="t" style="left:171.5px;top:1181.1px;font-size:12px;color:#fff;font-weight:bold;transform:scaleX(0.969);">November 2025</div>
<div class="t" style="left:487.5px;top:899.9px;font-size:14.8px;color:#0f3d6e;font-weight:bold;transform:scaleX(0.946);">Penghasilan</div>
<div class="t" style="left:487.5px;top:990.9px;font-size:14.8px;color:#0f3d6e;font-weight:bold;transform:scaleX(0.985);">Ketersediaan Lapangan Kerja</div>
<div class="t" style="left:487.5px;top:1083.4px;font-size:14.8px;color:#0f3d6e;font-weight:bold;transform:scaleX(0.977);">Kegiatan Usaha</div>
<div class="t" style="left:767.9px;top:924.2px;font-size:21.5px;color:#fff;font-weight:bold;transform:scaleX(0.950);">140,6</div>
<div class="t" style="left:762.1px;top:958.0px;font-size:17px;color:#14549c;transform:scaleX(0.950);">138,4</div>
<div class="t" style="left:738.9px;top:1014.2px;font-size:21.5px;color:#fff;font-weight:bold;transform:scaleX(0.950);">135,3</div>
<div class="t" style="left:735.6px;top:1048.0px;font-size:17px;color:#14549c;transform:scaleX(0.950);">132,0</div>
<div class="t" style="left:728.9px;top:1109.2px;font-size:21.5px;color:#fff;font-weight:bold;transform:scaleX(0.950);">133,8</div>
<div class="t" style="left:714.6px;top:1143.0px;font-size:17px;color:#14549c;transform:scaleX(0.950);">129,6</div>
<div class="t" style="left:489.0px;top:1191.2px;font-size:7.4px;color:#14549c;transform:scaleX(1.012);">*Ekspektasi terhadap kondisi ekonomi 6 bulan ke depan pada survei November 2025</div>
<div class="t" style="left:786.0px;top:1328.8px;font-size:12.6px;color:#0f3d6e;font-weight:bold;transform:scaleX(0.898);">Desember 2025</div>
<div class="t" style="left:802.5px;top:1228.2px;font-size:8.6px;color:#14549c;font-weight:bold;transform:scaleX(0.983);">Responden</div>
<div class="t" style="left:802.5px;top:1239.2px;font-size:8.6px;color:#14549c;font-weight:bold;transform:scaleX(0.972);">Survei Konsumen</div>
<div class="t" style="left:57.7px;top:1298.6px;font-size:9.6px;color:#f4f8fd;transform:scaleX(1.032);">www.bi.go.id</div>
<div class="t" style="left:151.7px;top:1298.6px;font-size:9.6px;color:#f4f8fd;transform:scaleX(1.014);">BankIndonesiaChannel</div>
<div class="t" style="left:289.0px;top:1298.6px;font-size:9.6px;color:#f4f8fd;transform:scaleX(1.020);">BankIndonesiaOfficial</div>
<div class="t" style="left:417.5px;top:1298.6px;font-size:9.6px;color:#f4f8fd;transform:scaleX(1.019);">bank_indonesia</div>
<div class="t" style="left:523.5px;top:1298.6px;font-size:9.6px;color:#f4f8fd;transform:scaleX(1.012);">bank_indonesia</div>
<div class="t" style="left:626.5px;top:1298.6px;font-size:9.6px;color:#f4f8fd;transform:scaleX(1.013);">Bank Indonesia</div>
<div class="t" style="left:725.0px;top:1298.6px;font-size:9.6px;color:#f4f8fd;transform:scaleX(1.013);">Bank Indonesia</div>
<div class="t" style="left:822.5px;top:1298.6px;font-size:9.6px;color:#f4f8fd;transform:scaleX(0.859);">BICARA: 131</div>
<div class="t" style="left:825.3px;top:1259.9px;font-size:6.8px;color:#1a5ea8;font-weight:bold;transform:scaleX(1.018);">18</div>
<div class="t" style="left:862.7px;top:1259.9px;font-size:6.8px;color:#1a5ea8;font-weight:bold;transform:scaleX(1.117);">4.600</div>
<div class="t" style="left:825.5px;top:1268.1px;font-size:2.6px;color:#1a5ea8;">Kota</div>
<div class="t" style="left:863.0px;top:1268.1px;font-size:2.6px;color:#1a5ea8;">Rumah Tangga</div>
<div class="t" style="left:803.2px;top:1302.0px;font-size:3px;color:#fff;font-weight:bold;">bicaraBI</div>

</div>
</body>
</html>
